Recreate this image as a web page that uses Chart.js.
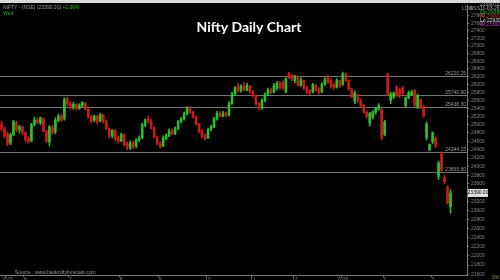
<!DOCTYPE html>
<html>
<head>
<meta charset="utf-8">
<title>Nifty Daily Chart</title>
<script src="https://cdn.jsdelivr.net/npm/chart.js@4.4.1/dist/chart.umd.min.js"></script>
<style>
  html, body { margin: 0; padding: 0; background: #000; overflow: hidden; }
  #wrap { position: relative; width: 500px; height: 280px; }
</style>
</head>
<body>
<div id="wrap"><canvas id="chart" width="500" height="280"></canvas></div>
<script>
// daily candles
const opens = [25020,24900,24780,24560,24760,25040,24880,24950,24810,24660,
  24610,25000,25120,25050,25140,24850,24590,24930,24830,25110,
  25210,25160,25640,25520,25430,25500,25400,25480,25520,25380,
  25190,25110,25210,25090,25240,25090,24900,24730,24850,24680,
  24610,24760,24540,24440,24560,24490,24640,24680,24990,25140,
  25090,24920,24710,24540,24490,24660,24730,24850,24780,24900,
  25070,25140,25260,25400,25310,25190,25020,24830,24730,24680,
  24880,24950,25140,25280,25210,25280,25240,25520,25760,25950,
  25840,25960,25860,25960,25810,25720,25520,25430,25600,25740,
  25860,25810,25910,26030,26050,25810,26270,26240,26100,26170,
  25980,26100,25910,25840,25810,25980,25880,25810,26000,26200,
  26100,26000,25930,26100,26000,26270,26100,25880,25570,25740,
  25620,25480,25310,25040,25190,25310,25380,25380,24760,26270,
  25600,25690,25930,25860,25910,25480,25670,25740,25840,25450,
  25620,25450,24680,24400,24590,24680,23770,24300,23750,23510,
  23080];
const highs = [25090,24950,24830,24800,25110,25090,24990,24970,24830,24710,
  25040,25190,25170,25190,25170,24870,24980,24980,25170,25260,
  25260,25670,25690,25570,25550,25520,25520,25570,25550,25400,
  25240,25240,25240,25280,25260,25120,24920,24880,24880,24730,
  24800,24780,24590,24610,24610,24660,24730,25040,25140,25210,
  25140,24950,24730,24590,24730,24780,24900,24900,24950,25110,
  25190,25310,25450,25450,25330,25210,25040,24880,24780,24920,
  24990,25190,25330,25330,25330,25310,25570,25810,25950,26030,
  26000,26050,26030,25980,25860,25740,25550,25640,25790,25910,
  25910,26030,26080,26080,26100,26170,26320,26270,26240,26220,
  26170,26120,25960,25880,26030,26000,25930,26050,26170,26240,
  26150,26030,26150,26120,26320,26290,26120,25910,25840,25760,
  25640,25500,25330,25310,25350,25430,25520,25400,25110,26290,
  25810,25810,25980,25910,25960,25690,25840,25860,25880,25760,
  25640,25480,25070,24540,24830,24710,24130,24350,23800,23560,
  23460];
const lows = [24850,24680,24490,24520,24730,24830,24800,24760,24590,24560,
  24590,24970,25020,25000,24830,24570,24490,24760,24780,25070,
  25070,25110,25470,25380,25380,25360,25380,25430,25360,25160,
  25040,25070,25020,25070,25040,24880,24680,24680,24610,24560,
  24590,24490,24400,24400,24420,24440,24590,24660,24950,25040,
  24900,24680,24520,24440,24470,24640,24710,24760,24760,24880,
  25040,25110,25240,25280,25160,24990,24800,24680,24630,24660,
  24850,24920,25110,25190,25190,25190,25210,25500,25740,25810,
  25810,25840,25840,25790,25690,25480,25360,25380,25570,25720,
  25770,25790,25860,25880,25880,25790,26150,26100,26050,25960,
  25960,25880,25770,25740,25790,25840,25760,25790,25980,26030,
  25910,25880,25910,25930,25980,26080,25860,25670,25520,25550,
  25450,25290,25160,24970,25140,25260,25360,24630,24730,25720,
  25520,25640,25690,25670,25740,25430,25640,25720,25450,25400,
  25400,25190,24630,24370,24540,24440,23700,23870,23600,23130,
  22930];
const closes = [24900,24730,24540,24760,25070,24880,24950,24810,24640,24590,
  25000,25120,25050,25170,24850,24610,24950,24810,25110,25210,
  25110,25620,25520,25430,25500,25400,25480,25550,25380,25190,
  25090,25210,25070,25240,25090,24900,24730,24860,24660,24610,
  24760,24520,24440,24560,24470,24640,24680,24990,25120,25090,
  24920,24710,24540,24490,24680,24730,24850,24780,24900,25070,
  25140,25260,25400,25310,25190,25020,24830,24710,24660,24880,
  24950,25140,25280,25210,25280,25240,25520,25760,25910,25840,
  25960,25860,25980,25810,25720,25520,25400,25600,25740,25860,
  25810,25980,26030,25930,25910,26150,26170,26150,26200,25980,
  26120,25910,25810,25790,26000,25860,25790,26000,26120,26050,
  25960,25930,26100,25960,26270,26100,25880,25690,25790,25600,
  25480,25310,25210,25280,25310,25400,25480,24680,25070,25740,
  25760,25790,25740,25720,25790,25670,25790,25810,25480,25720,
  25450,25210,25020,24520,24800,24490,24080,23920,23650,23170,
  23390];

// horizontal support / resistance levels
const levels = [26220.25, 25740.90, 25438.30, 24344.15, 23869.60];

// price axis ticks (log scale)
const priceTicks = [21600,21800,22000,22200,22400,22600,22800,23000,23200,23400,
  23600,23800,24000,24200,24400,24600,24800,25000,25200,25400,
  25600,25800,26000,26200,26400,26600,26800,27000,27200,27400,
  27600,27800];

// month marks on the time axis
const tickIdx = [2, 8, 23, 40, 53, 69, 84, 98, 114, 128, 144];
const tickText = ['2025', '6', '7', '8', '9', '10', '11', '12', '2026', '2', '3'];
const blankDays = 5;

const UP = '#2cbc2c';
const DOWN = '#c81c1c';

const labels = [];
for (let i = 0; i < opens.length + blankDays; i++) labels.push('');
tickIdx.forEach((idx, k) => { labels[idx] = tickText[k]; });

const colors = opens.map((o, i) => closes[i] >= o ? UP : DOWN);
const last = opens.length - 1;
const tiny = '5px "Liberation Sans"';

// levels, title and the small texts round the plot
const overlay = {
  id: 'overlay',
  beforeDatasetsDraw(chart) {
    const { ctx, chartArea: a, scales: { y } } = chart;
    ctx.save();
    ctx.strokeStyle = '#747474';
    ctx.lineWidth = 1;
    levels.forEach(v => {
      const py = Math.round(y.getPixelForValue(v)) + 0.5;
      ctx.beginPath();
      ctx.moveTo(a.left, py);
      ctx.lineTo(a.right, py);
      ctx.stroke();
    });
    ctx.restore();
  },
  afterDraw(chart) {
    const { ctx, chartArea: a, scales: { y } } = chart;
    ctx.save();

    // level labels
    ctx.font = tiny;
    ctx.fillStyle = '#9c9c9c';
    ctx.textAlign = 'right';
    ctx.textBaseline = 'bottom';
    levels.forEach(v => {
      const py = Math.round(y.getPixelForValue(v));
      ctx.fillText(v.toFixed(2), a.right - 1, py);
    });

    // last price box
    const py = y.getPixelForValue(closes[last]);
    ctx.fillStyle = '#e0e0e0';
    ctx.fillRect(a.right + 1, py - 4, 20, 8);
    ctx.fillStyle = '#000';
    ctx.textAlign = 'center';
    ctx.textBaseline = 'middle';
    ctx.fillText(closes[last].toFixed(2), a.right + 11, py);

    // top strip
    ctx.fillStyle = '#d8d8d8';
    ctx.fillRect(0, 0, 500, 3);

    // title
    ctx.font = 'bold 14px Lato';
    ctx.fillStyle = '#fff';
    ctx.textAlign = 'center';
    ctx.textBaseline = 'alphabetic';
    ctx.fillText('Nifty Daily Chart', 249, 32);

    // header top left
    ctx.font = tiny;
    ctx.textAlign = 'left';
    ctx.fillStyle = '#999';
    const head = 'NIFTY - (NSE) (' + closes[last].toFixed(2) + ') ';
    ctx.fillText(head, 3, 9);
    ctx.fillStyle = '#2cbc2c';
    ctx.fillText('+1.00%', 3 + ctx.measureText(head).width, 9);
    ctx.fillText('Wed', 3, 15);

    // quote box top right
    ctx.fillStyle = '#999';
    ctx.fillText('LOG', 462, 10);
    ctx.fillText('BSS', 470, 10);
    const q = [
      [closes[last].toFixed(2), '#aaa'],
      ['11-03-26 Tue', '#aaa'],
      ['Op ' + opens[last].toFixed(2), '#2cbc2c'],
      ['Hi ' + highs[last].toFixed(2), '#d83030'],
      ['Lo ' + lows[last].toFixed(2), '#ddd'],
      ['Cl ' + closes[last].toFixed(2), '#c040c0']
    ];
    q.forEach((r, k) => {
      ctx.fillStyle = r[1];
      ctx.fillText(r[0], 480, 6 + k * 4);
    });

    // source line
    ctx.fillStyle = '#999';
    ctx.fillText('Source : www.bankniftyforecast.com', 15, a.bottom - 1);
    ctx.fillStyle = '#9a9a30';
    ctx.fillText('0%', 492, 279);
    ctx.restore();
  }
};

new Chart(document.getElementById('chart'), {
  type: 'bar',
  data: {
    labels,
    datasets: [
      {
        label: 'wick',
        data: lows.map((l, i) => [l, highs[i]]),
        backgroundColor: colors,
        barThickness: 1,
        grouped: false,
        order: 2
      },
      {
        label: 'body',
        data: opens.map((o, i) => [o, closes[i]]),
        backgroundColor: colors,
        barThickness: 2,
        grouped: false,
        order: 1
      }
    ]
  },
  options: {
    responsive: false,
    animation: false,
    events: [],
    layout: { padding: { top: 4, left: 0, right: 0, bottom: 0 } },
    plugins: { legend: { display: false }, tooltip: { enabled: false } },
    scales: {
      x: {
        offset: true,
        afterFit(s) { s.height = 5; },
        border: { color: '#7c7c7c' },
        grid: {
          drawOnChartArea: false,
          tickLength: 2,
          color: c => (c.tick && c.tick.label) ? '#7c7c7c' : 'transparent'
        },
        ticks: {
          autoSkip: false,
          maxRotation: 0,
          padding: 0,
          color: '#858585',
          font: { family: 'Liberation Sans', size: 5 }
        }
      },
      y: {
        type: 'logarithmic',
        position: 'right',
        min: 21590,
        max: 28100,
        afterFit(s) { s.width = 33; },
        afterBuildTicks(s) { s.ticks = priceTicks.map(v => ({ value: v })); },
        border: { color: '#7c7c7c' },
        grid: { drawOnChartArea: false, tickLength: 2, color: '#7c7c7c' },
        ticks: {
          autoSkip: false,
          padding: 2,
          color: '#858585',
          font: { family: 'Liberation Sans', size: 5 },
          callback: v => String(v)
        }
      }
    }
  },
  plugins: [overlay]
});
</script>
</body>
</html>
